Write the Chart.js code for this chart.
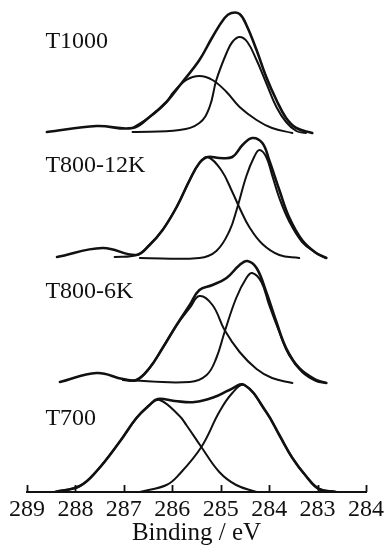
<!DOCTYPE html>
<html>
<head>
<meta charset="utf-8">
<script src="https://cdn.jsdelivr.net/npm/chart.js@4/dist/chart.umd.min.js"></script>
<style>
  html, body { margin: 0; padding: 0; background: #fff; }
  #wrap { width: 387px; height: 545px; position: relative; }
</style>
</head>
<body>
<div id="wrap"><canvas id="c" width="387" height="545"></canvas></div>
<script>
// ---- Data (binding energy in eV, intensity in arbitrary units above each spectrum's baseline) ----
const tickValues = [289, 288, 287, 286, 285, 284, 283, 282];
const tickLabels = ['289', '288', '287', '286', '285', '284', '283', '284'];
const panelNames = ['T1000', 'T800-12K', 'T800-6K', 'T700'];
const panelOffsets = [359, 234, 109, 0];
const panelLabelHeights = [85, 86, 85, 67];

const t1000Env = [[288.59,1],[287.56,7],[286.82,5],[286.47,16],[286.12,31],[285.79,51],[285.44,73],[285.17,96],[284.92,115],[284.78,120],[284.61,119],[284.47,108],[284.26,83],[284.06,56],[283.85,33],[283.65,15],[283.44,5],[283.11,0]];
const t1000C1 = [[286.82,5],[286.47,16],[286.12,31],[285.99,40],[285.71,53],[285.44,57],[285.17,53],[284.88,41],[284.61,26],[284.26,13],[283.94,5],[283.52,0]];
const t1000C2 = [[286.82,1],[285.85,3],[285.44,10],[285.23,26],[285.09,53],[284.88,80],[284.76,91],[284.61,96],[284.45,91],[284.26,73],[284.06,50],[283.85,26],[283.65,11],[283.44,2],[283.24,0]];

const t800_12Env = [[288.38,1],[287.44,10],[286.74,3],[286.47,13],[286.20,28],[285.91,51],[285.64,78],[285.44,95],[285.27,101],[285.03,100],[284.76,101],[284.55,113],[284.35,120],[284.14,115],[284.00,98],[283.79,68],[283.59,41],[283.32,18],[283.03,5],[282.82,0]];
const t800_12C1 = [[287.19,1],[286.74,3],[286.47,13],[286.20,28],[285.91,51],[285.64,78],[285.44,95],[285.27,101],[284.99,88],[284.76,66],[284.61,50],[284.41,31],[284.14,14],[283.79,3],[283.38,0]];
const t800_12C2 = [[286.67,0],[285.44,0],[285.09,7],[284.82,27],[284.66,50],[284.47,82],[284.31,101],[284.20,108],[284.06,101],[283.94,83],[283.79,60],[283.59,37],[283.32,16],[283.03,5],[282.82,0]];

const t800_6Env = [[288.32,1],[287.56,10],[287.02,4],[286.74,3],[286.47,15],[286.20,35],[285.91,58],[285.64,78],[285.44,93],[285.17,98],[284.88,105],[284.61,118],[284.45,122],[284.26,115],[284.06,91],[283.85,61],[283.65,35],[283.38,15],[283.03,3],[282.82,0]];
const t800_6C1 = [[287.02,3],[286.74,3],[286.47,15],[286.20,35],[285.91,58],[285.64,75],[285.44,87],[285.17,78],[284.92,53],[284.61,31],[284.26,14],[283.94,5],[283.52,0]];
const t800_6C2 = [[287.02,3],[285.64,1],[285.29,8],[285.09,25],[284.92,51],[284.68,85],[284.47,105],[284.35,110],[284.16,101],[284.00,78],[283.79,51],[283.59,28],[283.32,11],[283.03,2],[282.82,0]];

const t700Env = [[288.42,0],[287.91,6],[287.56,21],[287.09,50],[286.74,74],[286.47,87],[286.30,93],[285.95,91],[285.54,90],[285.13,95],[284.82,102],[284.51,107],[284.06,80],[283.79,57],[283.52,34],[283.24,16],[282.97,3],[282.62,0]];
const t700C1 = [[288.42,0],[287.91,6],[287.56,21],[287.09,50],[286.74,74],[286.47,87],[286.26,92],[285.85,76],[285.71,67],[285.40,45],[285.03,20],[284.68,7],[284.26,0]];
const t700C2 = [[286.67,0],[286.12,7],[285.85,18],[285.40,45],[285.03,80],[284.76,99],[284.51,107],[284.06,80],[283.79,57],[283.52,34],[283.24,16],[282.97,3],[282.62,0]];

const panelCurves = [
  [t1000Env, t1000C1, t1000C2],
  [t800_12Env, t800_12C1, t800_12C2],
  [t800_6Env, t800_6C1, t800_6C2],
  [t700Env, t700C1, t700C2]
];

// ---- Build datasets ----
const datasets = [];
panelCurves.forEach((curves, p) => {
  curves.forEach((curve, k) => {
    datasets.push({
      label: panelNames[p] + (k === 0 ? ' envelope' : ' peak ' + k),
      data: curve.map(([e, v]) => ({ x: e, y: v + panelOffsets[p] })),
      borderColor: '#111',
      borderWidth: k === 0 ? 2.6 : 2.0,
      pointRadius: 0,
      fill: false,
      tension: 0.4,
      borderCapStyle: 'round',
      borderJoinStyle: 'round'
    });
  });
});

const tickMarks = {
  id: 'tickMarks',
  afterDraw(chart) {
    const xs = chart.scales.x;
    const ctx = chart.ctx;
    const y0 = chart.chartArea.bottom;
    ctx.save();
    ctx.strokeStyle = '#111';
    ctx.lineWidth = 1.8;
    tickValues.forEach(v => {
      const px = Math.round(xs.getPixelForValue(v)) + 0.5;
      ctx.beginPath();
      ctx.moveTo(px, y0);
      ctx.lineTo(px, y0 - 7);
      ctx.stroke();
    });
    ctx.restore();
  }
};

const panelLabels = {
  id: 'panelLabels',
  afterDraw(chart) {
    const xs = chart.scales.x, ys = chart.scales.y;
    const ctx = chart.ctx;
    ctx.save();
    ctx.fillStyle = '#111';
    ctx.font = '24px "Liberation Serif", "Times New Roman", serif';
    ctx.textAlign = 'left';
    ctx.textBaseline = 'alphabetic';
    panelNames.forEach((name, p) => {
      const px = xs.getPixelForValue(288.62);
      const py = ys.getPixelForValue(panelOffsets[p] + panelLabelHeights[p]);
      ctx.fillText(name, px, py);
    });
    ctx.restore();
  }
};

new Chart(document.getElementById('c'), {
  type: 'line',
  data: { datasets },
  options: {
    responsive: false,
    animation: false,
    events: [],
    layout: { padding: { left: 27, right: 20, top: 0, bottom: 0 } },
    plugins: { legend: { display: false }, tooltip: { enabled: false } },
    scales: {
      x: {
        type: 'linear',
        min: 282,
        max: 289,
        reverse: true,
        afterFit(scale) { scale.height = 53; },
        afterBuildTicks(scale) { scale.ticks = tickValues.map(v => ({ value: v })); },
        grid: { display: false, drawTicks: false },
        border: { display: true, color: '#111', width: 2 },
        ticks: {
          color: '#111',
          padding: 3,
          maxRotation: 0,
          autoSkip: false,
          font: { family: '"Liberation Serif", "Times New Roman", serif', size: 24 },
          callback: (v) => tickLabels[tickValues.indexOf(v)]
        },
        title: {
          display: true,
          text: 'Binding / eV',
          color: '#111',
          padding: { top: 0, bottom: -3 },
          font: { family: '"Liberation Serif", "Times New Roman", serif', size: 25 }
        }
      },
      y: {
        display: false,
        min: 0,
        max: 492
      }
    }
  },
  plugins: [tickMarks, panelLabels]
});
</script>
</body>
</html>
